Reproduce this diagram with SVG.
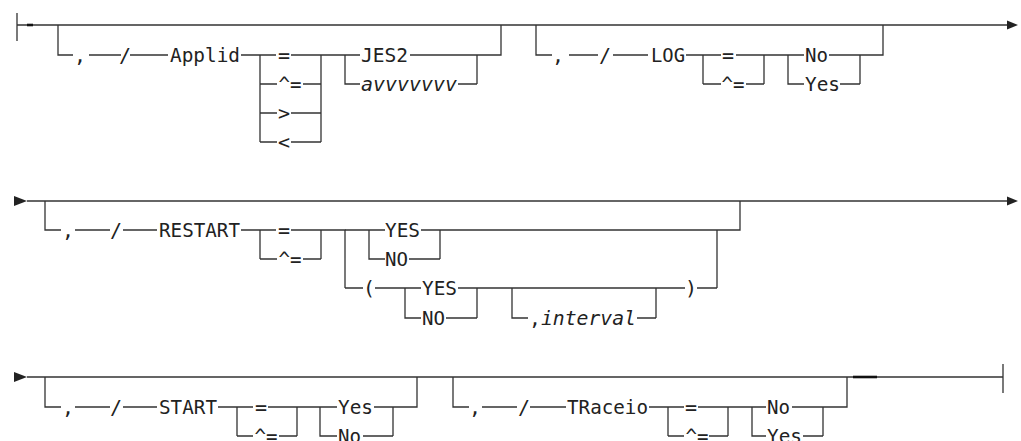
<svg xmlns="http://www.w3.org/2000/svg" width="1021" height="441" viewBox="0 0 1021 441">
<style>
.c{fill:none;stroke:#333;stroke-width:1.3}
.k{fill:none;stroke:#111;stroke-width:2.6}
.a{fill:#222}
.t{font-family:"DejaVu Sans Mono","Liberation Mono",monospace;font-size:20px;fill:#222}
.m{text-anchor:middle}
.i{font-style:italic}
</style>
<rect width="1021" height="441" fill="#fff"/>
<g id="connectors">
<!-- row 1 -->
<path class="c" d="M17,13V41M17,25H1008"/>
<path class="k" d="M27,25H33"/>
<polygon class="a" points="1007,20.5 1018,25 1007,29.5"/>
<path class="c" d="M58,25V55H73M89,55H121M130,55H168M241,55H260"/>
<path class="c" d="M260,55V142M260,55H276M291,55H321M260,84H277M303,84H321M260,113H277M291,113H321M260,142H277M291,142H321M321,55V142"/>
<path class="c" d="M321,55H360M345,55V84H360M410,55H477M458,84H477M477,55V84M477,55H501V25"/>
<path class="c" d="M536,25V55H552M569,55H598M613,55H648M686,55H703"/>
<path class="c" d="M703,55V84M703,55H721M736,55H764M703,84H721M746,84H764M764,55V84M764,55H804M788,55V84H804M829,55H860M840,84H860M860,55V84M860,55H883V25"/>
<!-- row 2 -->
<polygon class="a" points="14,196 27,201 14,206"/>
<path class="c" d="M27,201H1008"/>
<polygon class="a" points="1007,196.5 1018,201 1007,205.5"/>
<path class="c" d="M45,201V230H61M75,230H110M123,230H157M241,230H260"/>
<path class="c" d="M260,230V259M260,230H276M291,230H321M260,259H277M303,259H321M321,230V259M321,230H345V288"/>
<path class="c" d="M345,230H385M369,230V259H385M421,230H440M409,259H440M440,230V259M440,230H717V288M717,230H740V201"/>
<path class="c" d="M345,288H363M375,288H405M405,288V318H421M405,288H421M458,288H477M446,318H477M477,288V318M477,288H512V318H528M512,288H685M637,318H656M656,288V318M697,288H717"/>
<!-- row 3 -->
<polygon class="a" points="14,372 27,377 14,382"/>
<path class="c" d="M27,377H1003M1003,364V393"/>
<path class="k" d="M853,377H877"/>
<path class="c" d="M45,377V407H61M75,407H110M123,407H157M218,407H237"/>
<path class="c" d="M237,407V436M237,407H253M268,407H297M237,436H253M279,436H297M297,407V436M297,407H337M320,407V436H337M374,407H393M363,436H393M393,407V436M393,407H417V377"/>
<path class="c" d="M453,377V407H469M482,407H517M530,407H566M649,407H668"/>
<path class="c" d="M668,407V436M668,407H684M698,407H728M668,436H684M709,436H728M728,407V436M728,407H766M752,407V436H766M792,407H823M803,436H823M823,407V436M823,407H847V377"/>
</g>
<!-- row 1 nodes -->
<g id="applid-comma"><text class="t m" x="80" y="62">,</text></g>
<g id="applid-slash"><text class="t m" x="125" y="62">/</text></g>
<g id="applid"><text class="t" x="170" y="62" textLength="70" lengthAdjust="spacingAndGlyphs">Applid</text></g>
<g id="applid-eq"><text class="t m" x="284" y="62">=</text></g>
<g id="applid-ne"><text class="t m" x="290" y="91" textLength="23" lengthAdjust="spacingAndGlyphs">^=</text></g>
<g id="applid-gt"><text class="t m" x="284" y="120">&gt;</text></g>
<g id="applid-lt"><text class="t m" x="284" y="149">&lt;</text></g>
<g id="jes2"><text class="t" x="361" y="62" textLength="47" lengthAdjust="spacingAndGlyphs">JES2</text></g>
<g id="avvvvvvv"><text class="t i" x="361" y="91" textLength="96" lengthAdjust="spacingAndGlyphs">avvvvvvv</text></g>
<g id="log-comma"><text class="t m" x="558" y="62">,</text></g>
<g id="log-slash"><text class="t m" x="605" y="62">/</text></g>
<g id="log"><text class="t" x="651" y="62" textLength="34" lengthAdjust="spacingAndGlyphs">LOG</text></g>
<g id="log-eq"><text class="t m" x="728" y="62">=</text></g>
<g id="log-ne"><text class="t m" x="733" y="91" textLength="23" lengthAdjust="spacingAndGlyphs">^=</text></g>
<g id="log-no"><text class="t" x="805" y="62" textLength="23" lengthAdjust="spacingAndGlyphs">No</text></g>
<g id="log-yes"><text class="t" x="805" y="91" textLength="35" lengthAdjust="spacingAndGlyphs">Yes</text></g>
<!-- row 2 nodes -->
<g id="restart-comma"><text class="t m" x="68" y="237">,</text></g>
<g id="restart-slash"><text class="t m" x="116" y="237">/</text></g>
<g id="restart"><text class="t" x="159" y="237" textLength="81" lengthAdjust="spacingAndGlyphs">RESTART</text></g>
<g id="restart-eq"><text class="t m" x="284" y="237">=</text></g>
<g id="restart-ne"><text class="t m" x="290" y="266" textLength="23" lengthAdjust="spacingAndGlyphs">^=</text></g>
<g id="restart-yes"><text class="t" x="385" y="237" textLength="35" lengthAdjust="spacingAndGlyphs">YES</text></g>
<g id="restart-no"><text class="t" x="385" y="266" textLength="23" lengthAdjust="spacingAndGlyphs">NO</text></g>
<g id="restart-lparen"><text class="t m" x="369" y="295">(</text></g>
<g id="restart-yes2"><text class="t" x="422" y="295" textLength="35" lengthAdjust="spacingAndGlyphs">YES</text></g>
<g id="restart-no2"><text class="t" x="422" y="325" textLength="23" lengthAdjust="spacingAndGlyphs">NO</text></g>
<g id="restart-interval"><text class="t" x="529" y="325" textLength="107" lengthAdjust="spacingAndGlyphs">,<tspan class="i">interval</tspan></text></g>
<g id="restart-rparen"><text class="t m" x="691" y="295">)</text></g>
<!-- row 3 nodes -->
<g id="start-comma"><text class="t m" x="68" y="414">,</text></g>
<g id="start-slash"><text class="t m" x="116" y="414">/</text></g>
<g id="start"><text class="t" x="159" y="414" textLength="58" lengthAdjust="spacingAndGlyphs">START</text></g>
<g id="start-eq"><text class="t m" x="261" y="414">=</text></g>
<g id="start-ne"><text class="t m" x="266" y="443" textLength="23" lengthAdjust="spacingAndGlyphs">^=</text></g>
<g id="start-yes"><text class="t" x="338" y="414" textLength="35" lengthAdjust="spacingAndGlyphs">Yes</text></g>
<g id="start-no"><text class="t" x="338" y="443" textLength="23" lengthAdjust="spacingAndGlyphs">No</text></g>
<g id="traceio-comma"><text class="t m" x="475" y="414">,</text></g>
<g id="traceio-slash"><text class="t m" x="524" y="414">/</text></g>
<g id="traceio"><text class="t" x="567" y="414" textLength="81" lengthAdjust="spacingAndGlyphs">TRaceio</text></g>
<g id="traceio-eq"><text class="t m" x="691" y="414">=</text></g>
<g id="traceio-ne"><text class="t m" x="697" y="443" textLength="23" lengthAdjust="spacingAndGlyphs">^=</text></g>
<g id="traceio-no"><text class="t" x="767" y="414" textLength="23" lengthAdjust="spacingAndGlyphs">No</text></g>
<g id="traceio-yes"><text class="t" x="767" y="443" textLength="35" lengthAdjust="spacingAndGlyphs">Yes</text></g>
</svg>
